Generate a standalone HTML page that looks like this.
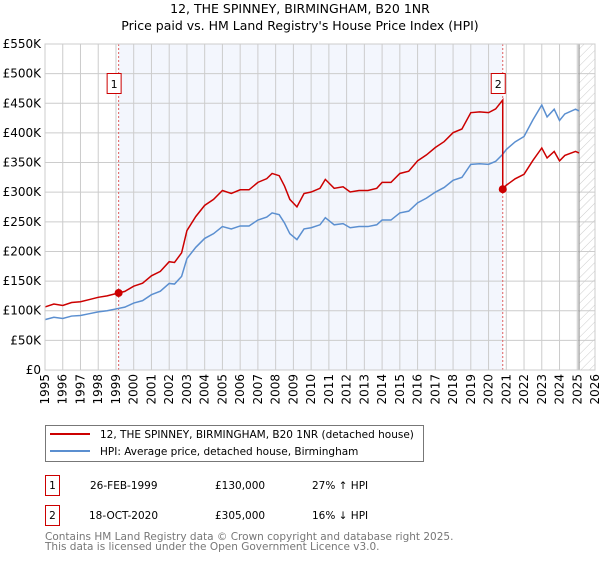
<!DOCTYPE html>
<html><head><meta charset="utf-8"><style>
body{margin:0;background:#fff;font-family:"DejaVu Sans","Liberation Sans",sans-serif;}
svg text{font-family:"DejaVu Sans","Liberation Sans",sans-serif;}
</style></head><body>
<svg id="chart" width="600" height="560" xmlns="http://www.w3.org/2000/svg">
<defs><pattern id="hatch" patternUnits="userSpaceOnUse" width="6" height="6" patternTransform="rotate(45)"><line x1="0" y1="0" x2="0" y2="6" stroke="#ccc" stroke-width="1"/></pattern></defs>
<text x="300" y="13" text-anchor="middle" font-size="12.5">12, THE SPINNEY, BIRMINGHAM, B20 1NR</text>
<text x="300" y="30" text-anchor="middle" font-size="12.5">Price paid vs. HM Land Registry's House Price Index (HPI)</text>
<g id="plot"></g>
<g>
<rect x="45.5" y="425.5" width="378" height="36" fill="#fff" stroke="#777"/>
<line x1="50" y1="434" x2="90" y2="434" stroke="#cc0000" stroke-width="2"/>
<text x="100" y="438" font-size="10.5">12, THE SPINNEY, BIRMINGHAM, B20 1NR (detached house)</text>
<line x1="50" y1="451" x2="90" y2="451" stroke="#5b8fd0" stroke-width="2"/>
<text x="100" y="455" font-size="10.5">HPI: Average price, detached house, Birmingham</text>
</g>
<g font-size="10.5">
<rect x="45.5" y="475.5" width="14" height="20" fill="#fff" stroke="#cc0000"/>
<text x="52.5" y="489" text-anchor="middle">1</text>
<text x="90" y="489">26-FEB-1999</text><text x="215" y="489">£130,000</text><text x="312" y="489">27% ↑ HPI</text>
<rect x="45.5" y="505.5" width="14" height="20" fill="#fff" stroke="#cc0000"/>
<text x="52.5" y="519" text-anchor="middle">2</text>
<text x="89" y="519">18-OCT-2020</text><text x="215" y="519">£305,000</text><text x="312" y="519">16% ↓ HPI</text>
</g>
<text x="45" y="540" font-size="10.5" fill="#777">Contains HM Land Registry data © Crown copyright and database right 2025.</text>
<text x="45" y="550" font-size="10.5" fill="#777">This data is licensed under the Open Government Licence v3.0.</text>
</svg>
<script>
const hpiYears=[1995,1995.5,1996,1996.5,1997,1997.5,1998,1998.5,1999,1999.5,2000,2000.5,2001,2001.5,2002,2002.3,2002.7,2003,2003.5,2004,2004.5,2005,2005.5,2006,2006.5,2007,2007.5,2007.8,2008.2,2008.5,2008.8,2009.2,2009.6,2010,2010.5,2010.8,2011.3,2011.8,2012.2,2012.7,2013.2,2013.7,2014,2014.5,2015,2015.5,2016,2016.5,2017,2017.5,2018,2018.5,2019,2019.5,2020,2020.4,2020.8,2021,2021.5,2022,2022.5,2023,2023.3,2023.7,2024,2024.3,2024.9,2025.1];
const hpiValues=[85,89,87,91,92,95,98,100,103,106,113,117,127,133,146,145,158,188,207,222,230,242,238,243,243,253,258,265,262,248,230,220,238,240,245,257,245,247,240,242,242,245,253,253,265,268,282,290,300,308,320,325,347,348,347,352,364,372,385,394,422,447,427,440,421,432,440,437];
const saleYears=[1999.15,2020.8];
const salePrices=[130,305];
const yTicks=[0,50,100,150,200,250,300,350,400,450,500,550];
const yLabels=["£0","£50K","£100K","£150K","£200K","£250K","£300K","£350K","£400K","£450K","£500K","£550K"];
const xTicks=[1995,1996,1997,1998,1999,2000,2001,2002,2003,2004,2005,2006,2007,2008,2009,2010,2011,2012,2013,2014,2015,2016,2017,2018,2019,2020,2021,2022,2023,2024,2025,2026];

const NS='http://www.w3.org/2000/svg';
const L=45,R=595,T=44,B=370;
const X=y=>L+(y-1995)/(2026-1995)*(R-L);
const Y=v=>B-v/550*(B-T);
const g=document.getElementById('plot');
function mk(tag,attrs,parent){const e=document.createElementNS(NS,tag);for(const k in attrs)e.setAttribute(k,attrs[k]);(parent||g).appendChild(e);return e;}
function hpiAt(t){for(let i=0;i<hpiYears.length-1;i++){if(t>=hpiYears[i]&&t<=hpiYears[i+1]){const f=(t-hpiYears[i])/(hpiYears[i+1]-hpiYears[i]);return hpiValues[i]+f*(hpiValues[i+1]-hpiValues[i]);}}return hpiValues[hpiValues.length-1];}

const bg=mk('rect',{x:L,y:T,width:R-L,height:B-T,fill:'#fff'});


const shade=mk('rect',{x:X(saleYears[0]),y:T,width:X(saleYears[1])-X(saleYears[0]),height:B-T,fill:'#f3f6fd'});


const hatch=mk('rect',{x:X(2025.1),y:T,width:R-X(2025.1),height:B-T,fill:'url(#hatch)'});



yTicks.forEach((v,i)=>{
 const ln=mk('line',{x1:L,x2:R,y1:Y(v),y2:Y(v),stroke:'#ccc','stroke-width':1});
 
 
 const t=mk('text',{x:L-4,y:Y(v)+4,'text-anchor':'end','font-size':'12'});
 t.textContent=yLabels[i];
 
 
});
xTicks.forEach(yr=>{
 const ln=mk('line',{x1:X(yr),x2:X(yr),y1:T,y2:B,stroke:'#ccc','stroke-width':1});
 
 
 const t=mk('text',{x:0,y:0,'text-anchor':'end','font-size':'12',transform:`translate(${X(yr)+4},${B+4}) rotate(-90)`});
 t.textContent=yr;
 
 
});
const endLine=mk('line',{x1:X(2025.1),x2:X(2025.1),y1:T,y2:B,stroke:'#999','stroke-width':1.2});



saleYears.forEach((sy,i)=>{
 const v=mk('line',{x1:X(sy),x2:X(sy),y1:T,y2:B,stroke:'#e06060','stroke-width':1,'stroke-dasharray':'2,2'});
 
 
});

const hp=hpiYears.map((yr,i)=>X(yr)+','+Y(hpiValues[i])).join(' ');
const hl=mk('polyline',{points:hp,fill:'none',stroke:'#5b8fd0','stroke-width':1.5});



const r0=salePrices[0]/hpiAt(saleYears[0]), r1=salePrices[1]/hpiAt(saleYears[1]);
let pts=[];
hpiYears.forEach((yr,i)=>{ if(yr<saleYears[1]) pts.push([yr,hpiValues[i]*r0]); });
pts.push([saleYears[1],hpiAt(saleYears[1])*r0]);
pts.push([saleYears[1],salePrices[1]]);
hpiYears.forEach((yr,i)=>{ if(yr>saleYears[1]) pts.push([yr,hpiValues[i]*r1]); });
const pl=mk('polyline',{points:pts.map(p=>X(p[0])+','+Y(p[1])).join(' '),fill:'none',stroke:'#cc0000','stroke-width':1.5});



saleYears.forEach((sy,i)=>{
 const c=mk('circle',{cx:X(sy),cy:Y(salePrices[i]),r:4,fill:'#cc0000'});
 
 
 const bx=X(sy)-11;
 const r=mk('rect',{x:bx-0.5,y:73.5,width:14,height:20,fill:'#fff',stroke:'#cc0000'});
 
 
 const t=mk('text',{x:bx+6.5,y:88,'text-anchor':'middle','font-size':'11'});
 t.textContent=String(i+1);
 
 
});
const frame=mk('rect',{x:L,y:T,width:R-L,height:B-T,fill:'none',stroke:'#ccc'});


</script>
</body></html>
